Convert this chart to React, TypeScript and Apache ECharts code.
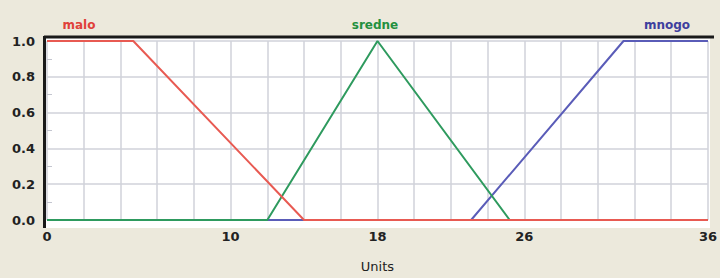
import React, { useEffect, useRef } from "react";
import * as echarts from "echarts";

const xTickLabels = [0, 10, 18, 26, 36];
const yTicks = [0, 0.2, 0.4, 0.6, 0.8, 1.0];
const maloData = [[0, 1], [4.7, 1], [14, 0], [36, 0]];
const sredneData = [[0, 0], [12, 0], [18, 1], [25.2, 0], [36, 0]];
const mnogoData = [[0, 0], [23.1, 0], [31.4, 1], [36, 1]];
const mfNames = ["malo", "sredne", "mnogo"];
const mfColors = ["#e85a52", "#2e9a5e", "#5a5cb8"];
const labelColors = ["#e0413a", "#23903f", "#3e3f9e"];

export default function App() {
  const ref = useRef<HTMLDivElement>(null);
  useEffect(() => {
    if (!ref.current) return;
    const chart = echarts.init(ref.current, null, { renderer: "svg" });
    const font = "DejaVu Sans";
    const option: any = {
      animation: false,
      backgroundColor: "#ece9dc",
      grid: { left: 47, right: 10, top: 41, bottom: 52 },
      xAxis: {
        type: "value",
        min: 0,
        max: 36,
        interval: 2,
        name: "Units",
        nameLocation: "middle",
        nameGap: 40,
        nameTextStyle: { fontFamily: font, fontSize: 13, color: "#222" },
        axisLine: { show: false },
        axisTick: { show: false },
        axisLabel: {
          customValues: xTickLabels,
          fontFamily: font,
          fontSize: 13,
          fontWeight: "bold",
          color: "#222",
          margin: 10,
        },
        splitLine: { show: true, lineStyle: { color: "#d0d2da", width: 1.5 } },
      },
      yAxis: {
        type: "value",
        min: 0,
        max: 1,
        interval: 0.2,
        axisLine: { show: false },
        axisTick: { show: false, inside: true, length: 0 },
        minorTick: { show: true, splitNumber: 2, length: 5, lineStyle: { color: "#c4c6d0" } },
        axisLabel: {
          customValues: yTicks,
          formatter: (v: number) => v.toFixed(1),
          fontFamily: font,
          fontSize: 13,
          fontWeight: "bold",
          color: "#222",
          margin: 12,
        },
        splitLine: { show: true, lineStyle: { color: "#d0d2da", width: 1.5 } },
      },
      graphic: [
        { type: "rect", z: -10, silent: true, shape: { x: 44, y: 37, width: 666, height: 191 }, style: { fill: "#ffffff" } },
        { type: "line", z: 100, silent: true, shape: { x1: 44, y1: 37, x2: 714, y2: 37 }, style: { stroke: "#1a1a1a", lineWidth: 3 } },
        { type: "line", z: 100, silent: true, shape: { x1: 44.5, y1: 36, x2: 44.5, y2: 228 }, style: { stroke: "#1a1a1a", lineWidth: 3 } },
        { type: "text", x: 79, y: 25, style: { text: mfNames[0], fill: labelColors[0], font: `bold 12px '${font}'`, align: "center", verticalAlign: "middle" } },
        { type: "text", x: 375, y: 25, style: { text: mfNames[1], fill: labelColors[1], font: `bold 12px '${font}'`, align: "center", verticalAlign: "middle" } },
        { type: "text", x: 667, y: 25, style: { text: mfNames[2], fill: labelColors[2], font: `bold 12px '${font}'`, align: "center", verticalAlign: "middle" } },
      ],
      series: [
        { name: mfNames[2], type: "line", data: mnogoData, symbol: "none", lineStyle: { color: mfColors[2], width: 2 }, z: 2 },
        { name: mfNames[1], type: "line", data: sredneData, symbol: "none", lineStyle: { color: mfColors[1], width: 2 }, z: 3 },
        { name: mfNames[0], type: "line", data: maloData, symbol: "none", lineStyle: { color: mfColors[0], width: 2 }, z: 4 },
      ],
    };
    chart.setOption(option);
    return () => chart.dispose();
  }, []);
  return <div ref={ref} style={{ position: "fixed", left: 0, top: 0, width: 720, height: 278 }} />;
}
